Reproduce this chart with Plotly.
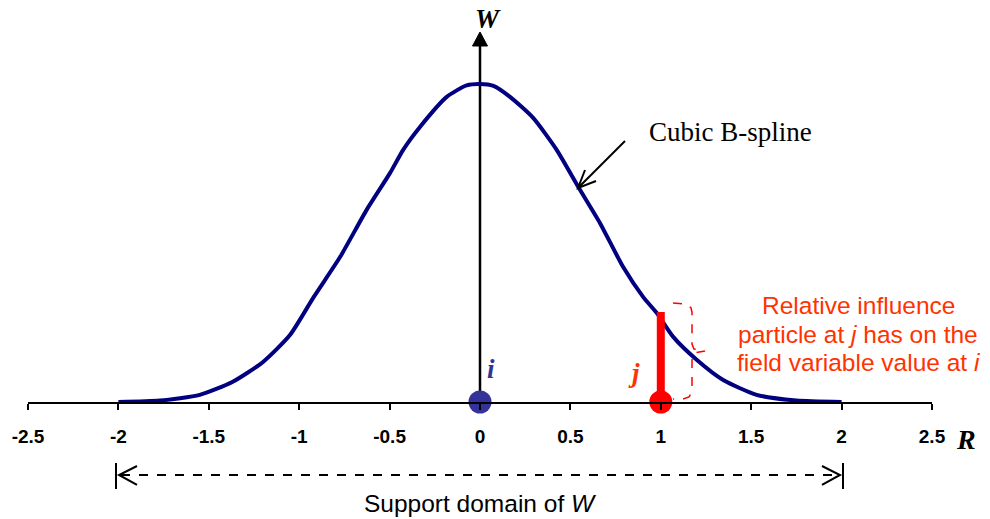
import plotly.graph_objects as go

# ---- data ----
r_vals = [-2.0, -1.77, -1.55, -1.37, -1.20, -1.05, -0.92, -0.774, -0.627, -0.498,
          -0.425, -0.332, -0.184, -0.074, 0.0, 0.074, 0.166, 0.294, 0.424, 0.553, 0.664,
          0.792, 0.903, 0.977, 1.07, 1.20, 1.345, 1.53, 1.75, 2.0]
w_vals = [0.0, 0.003, 0.015, 0.042, 0.084, 0.141, 0.220, 0.304, 0.403, 0.480,
          0.529, 0.577, 0.640, 0.664, 0.667, 0.663, 0.640, 0.596, 0.529, 0.445, 0.375,
          0.283, 0.220, 0.187, 0.136, 0.088, 0.046, 0.015, 0.003, 0.0]
particle_i = 0.0
particle_j = 1.0
w_at_j = 0.189
tick_vals = [-2.5, -2, -1.5, -1, -0.5, 0, 0.5, 1, 1.5, 2, 2.5]
tick_text = ["-2.5", "-2", "-1.5", "-1", "-0.5", "0", "0.5", "1", "1.5", "2", "2.5"]

# ---- layout geometry ----
W_PX, H_PX = 990, 519
ML, MR, MT, MB = 28, 58, 10, 117
PW, PH = W_PX - ML - MR, H_PX - MT - MB
Y_TOP = 0.8222


def P(px, py):
    """pixel -> paper coordinates (for decorations)"""
    return ((px - ML) / PW, (H_PX - MB - py) / PH)


def path(points, close=False):
    s = ""
    for k, (px, py) in enumerate(points):
        x, y = P(px, py)
        s += ("M" if k == 0 else "L") + f"{x:.5f},{y:.5f} "
    if close:
        s += "Z"
    return s


fig = go.Figure()

# kernel curve
fig.add_trace(go.Scatter(x=r_vals, y=w_vals, mode="lines",
                         line=dict(color="#000080", width=4, shape="spline", smoothing=0.6),
                         cliponaxis=False, hoverinfo="skip"))
# red influence bar
fig.add_trace(go.Scatter(x=[particle_j, particle_j], y=[0, w_at_j], mode="lines",
                         line=dict(color="#ff0000", width=8), cliponaxis=False))
# particles
fig.add_trace(go.Scatter(x=[particle_i], y=[0], mode="markers",
                         marker=dict(color="#333399", size=23), cliponaxis=False))
fig.add_trace(go.Scatter(x=[particle_j], y=[0], mode="markers",
                         marker=dict(color="#ff0000", size=23), cliponaxis=False))

shapes = []
# W axis (vertical arrow)
shapes.append(dict(type="path", xref="paper", yref="paper",
                   path=path([(480, 402), (480, 44)]),
                   line=dict(color="black", width=2.5), layer="below"))
shapes.append(dict(type="path", xref="paper", yref="paper",
                   path=path([(472.5, 46), (480, 32), (487.5, 46)], close=True),
                   fillcolor="black", line=dict(color="black", width=1)))
# Cubic B-spline arrow
shapes.append(dict(type="path", xref="paper", yref="paper",
                   path=path([(625, 141), (579, 187)]),
                   line=dict(color="black", width=2)))
shapes.append(dict(type="path", xref="paper", yref="paper",
                   path=path([(596, 181), (578, 188), (585, 170)]),
                   line=dict(color="black", width=2)))
# support domain dashed arrow
shapes.append(dict(type="path", xref="paper", yref="paper",
                   path=path([(121, 475), (838, 475)]),
                   line=dict(color="black", width=2, dash="dash")))
shapes.append(dict(type="path", xref="paper", yref="paper",
                   path=path([(137, 466), (119, 475), (137, 485)]),
                   line=dict(color="black", width=2)))
shapes.append(dict(type="path", xref="paper", yref="paper",
                   path=path([(822, 466), (840, 475), (822, 485)]),
                   line=dict(color="black", width=2)))
shapes.append(dict(type="path", xref="paper", yref="paper",
                   path=path([(116, 463), (116, 489)]),
                   line=dict(color="black", width=2)))
shapes.append(dict(type="path", xref="paper", yref="paper",
                   path=path([(843, 463), (843, 489)]),
                   line=dict(color="black", width=2)))
# red dashed brace
shapes.append(dict(type="path", xref="paper", yref="paper",
                   path=path([(673, 303), (687, 304), (691, 308), (692, 312), (692, 344),
                              (694, 349), (705, 351), (694, 353), (692, 358), (692, 392),
                              (689, 397), (683, 399), (673, 399)]),
                   line=dict(color="#ff0000", width=1.5, dash="dash")))

annotations = []


def ann(px, py, text, size, color="black", family="Liberation Sans", xanchor="center"):
    x, y = P(px, py)
    annotations.append(dict(x=x, y=y, xref="paper", yref="paper", text=text,
                            showarrow=False, xanchor=xanchor, yanchor="middle",
                            font=dict(size=size, color=color, family=family)))


ann(488, 19, "<b><i>W</i></b>", 27, family="Liberation Serif")
ann(966, 439, "<b><i>R</i></b>", 28, family="Liberation Serif")
ann(491, 369, "<b><i>i</i></b>", 27, color="#333399", family="Liberation Serif")
ann(634, 373, "<b><i>j</i></b>", 27, color="#ff3300", family="Liberation Serif")
ann(730, 132, "Cubic B-spline", 27, family="Liberation Serif")
ann(858, 305, "Relative influence", 24.5, color="#ff3300")
ann(858, 334, "particle at <i>j</i> has on the", 24.5, color="#ff3300")
ann(858, 362, "field variable value at <i>i</i>", 24.5, color="#ff3300")
ann(480, 504, "Support domain of <i>W</i>", 24.5)

fig.update_layout(
    width=W_PX, height=H_PX,
    margin=dict(l=ML, r=MR, t=MT, b=MB),
    paper_bgcolor="white", plot_bgcolor="white",
    showlegend=False,
    shapes=shapes, annotations=annotations,
    xaxis=dict(range=[-2.5, 2.5], tickvals=tick_vals, ticktext=tick_text,
               showline=True, linecolor="black", linewidth=1.5,
               ticks="outside", ticklen=6, tickwidth=1.5, tickcolor="black",
               ticklabelstandoff=10,
               tickfont=dict(family="Liberation Sans", size=19, color="black", weight="bold"),
               showgrid=False, zeroline=False, fixedrange=True),
    yaxis=dict(range=[0, Y_TOP], visible=False, showgrid=False, zeroline=False, fixedrange=True),
)

fig.write_html("out.html")
